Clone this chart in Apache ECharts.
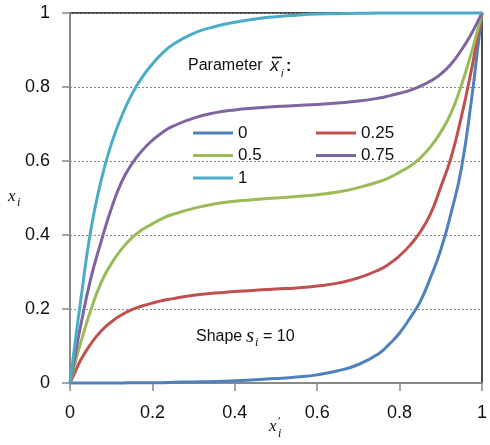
<!DOCTYPE html>
<html>
<head>
<meta charset="utf-8">
<script src="https://cdn.jsdelivr.net/npm/echarts@6/dist/echarts.min.js"></script>
<style>
  html, body { margin: 0; padding: 0; background: #fff; }
  #chart { width: 490px; height: 445px; }
</style>
</head>
<body>
<div id="chart"></div>
<script>
// Normalised position x'_i (horizontal) sampled along each curve
const xPrime = [0, 0.0125, 0.025, 0.05, 0.075, 0.1, 0.125, 0.15, 0.175, 0.2, 0.225, 0.25,
                0.3, 0.35, 0.4, 0.45, 0.5, 0.55, 0.6, 0.65, 0.7,
                0.75, 0.775, 0.8, 0.825, 0.85, 0.875, 0.9, 0.925, 0.95, 0.975, 0.9875, 1];

// Resulting x_i for each value of the parameter x̄_i (shape s_i = 10)
const param0 = [0, 0, 0, 0, 0, 0, 0, 0.001, 0.001, 0.001, 0.001, 0.002,
                0.003, 0.004, 0.006, 0.009, 0.012, 0.016, 0.022, 0.033, 0.05,
                0.08, 0.105, 0.135, 0.175, 0.22, 0.285, 0.36, 0.46, 0.58, 0.77, 0.885, 1];
const param025 = [0, 0.03, 0.06, 0.105, 0.14, 0.165, 0.184, 0.198, 0.208, 0.216, 0.223, 0.228,
                  0.237, 0.243, 0.247, 0.251, 0.254, 0.257, 0.262, 0.27, 0.284,
                  0.306, 0.322, 0.344, 0.372, 0.408, 0.457, 0.53, 0.61, 0.72, 0.85, 0.925, 1];
const param05 = [0, 0.055, 0.105, 0.195, 0.27, 0.322, 0.362, 0.392, 0.414, 0.43, 0.445, 0.456,
                 0.472, 0.484, 0.491, 0.496, 0.5, 0.504, 0.509, 0.516, 0.528,
                 0.544, 0.555, 0.57, 0.586, 0.608, 0.638, 0.678, 0.73, 0.805, 0.895, 0.945, 1];
const param075 = [0, 0.075, 0.15, 0.28, 0.38, 0.47, 0.543, 0.592, 0.628, 0.656, 0.678, 0.694,
                  0.716, 0.73, 0.738, 0.743, 0.747, 0.75, 0.753, 0.757, 0.762,
                  0.77, 0.776, 0.783, 0.791, 0.802, 0.816, 0.835, 0.862, 0.9, 0.945, 0.972, 1];
const param1 = [0, 0.11, 0.215, 0.41, 0.545, 0.645, 0.72, 0.78, 0.826, 0.862, 0.892, 0.915,
                0.945, 0.963, 0.975, 0.984, 0.99, 0.994, 0.997, 0.998, 0.999,
                1, 1, 1, 1, 1, 1, 1, 1, 1, 1, 1, 1];

const seriesNames = ['0', '0.25', '0.5', '0.75', '1'];
const seriesValues = [param0, param025, param05, param075, param1];
const seriesColors = ['#4F81BD', '#C0504D', '#9BBB59', '#8064A2', '#4BACC6'];

const axisTicks = [0, 0.2, 0.4, 0.6, 0.8, 1];

const sansFont = '"Liberation Sans", Arial, sans-serif';
const serifFont = '"Liberation Serif", "Times New Roman", serif';

const chart = echarts.init(document.getElementById('chart'), null, { renderer: 'canvas' });

const series = seriesNames.map((name, k) => ({
  name: name,
  type: 'line',
  data: xPrime.map((x, j) => [x, seriesValues[k][j]]),
  smooth: 0.5,
  showSymbol: false,
  clip: false,
  lineStyle: { width: 3, color: seriesColors[k] },
  itemStyle: { color: seriesColors[k] },
  z: 3
}));

const legendCommon = {
  orient: 'vertical',
  icon: 'rect',
  itemWidth: 40,
  itemHeight: 3,
  itemGap: 4.5,
  padding: 0,
  selectedMode: false,
  textStyle: { fontFamily: sansFont, fontSize: 17, color: '#111', lineHeight: 18 }
};

chart.setOption({
  animation: false,
  backgroundColor: '#fff',
  grid: {
    left: 70, right: 4, top: 13, bottom: 62,
    show: true,
    borderColor: '#111',
    borderWidth: 1.5,
    backgroundColor: 'transparent'
  },
  legend: [
    Object.assign({}, legendCommon, { left: 193, top: 124, data: ['0', '0.5', '1'] }),
    Object.assign({}, legendCommon, { left: 316, top: 124, data: ['0.25', '0.75'] })
  ],
  xAxis: {
    type: 'value',
    min: axisTicks[0],
    max: axisTicks[axisTicks.length - 1],
    interval: 0.2,
    axisLine: { show: true, lineStyle: { color: '#888', width: 2 } },
    axisTick: { show: true, inside: false, length: 8, lineStyle: { color: '#888', width: 1.5 } },
    axisLabel: { fontFamily: sansFont, fontSize: 18, color: '#111', margin: 21 },
    splitLine: { show: false }
  },
  yAxis: {
    type: 'value',
    min: axisTicks[0],
    max: axisTicks[axisTicks.length - 1],
    interval: 0.2,
    axisLine: { show: true, lineStyle: { color: '#888', width: 2 } },
    axisTick: { show: true, inside: false, length: 8, lineStyle: { color: '#888', width: 1.5 } },
    axisLabel: { fontFamily: sansFont, fontSize: 18, color: '#111', margin: 20 },
    splitLine: { show: true, lineStyle: { color: '#888', width: 1, type: [2, 2] } }
  },
  graphic: [
    // vertical axis title: x_i
    { type: 'text', left: 8, top: 188, style: { text: 'x', font: 'italic 17px ' + serifFont, fill: '#111' } },
    { type: 'text', left: 17, top: 197, style: { text: 'i', font: 'italic 12px ' + serifFont, fill: '#111' } },
    // horizontal axis title: x'_i
    { type: 'text', left: 269, top: 418, style: { text: 'x', font: 'italic 17px ' + serifFont, fill: '#111' } },
    { type: 'text', left: 278, top: 416, style: { text: '\u2032', font: '12px ' + serifFont, fill: '#111' } },
    { type: 'text', left: 278, top: 428, style: { text: 'i', font: 'italic 12px ' + serifFont, fill: '#111' } },
    // parameter caption
    { type: 'text', left: 188, top: 58, style: { text: 'Parameter', font: '16px ' + sansFont, fill: '#111' } },
    { type: 'text', left: 270, top: 57, style: { text: 'x', font: 'italic 18px ' + sansFont, fill: '#111' } },
    { type: 'line', shape: { x1: 272, y1: 57.5, x2: 282, y2: 57.5 }, style: { stroke: '#111', lineWidth: 1.6 } },
    { type: 'text', left: 281, top: 68, style: { text: 'i', font: 'italic 11px ' + sansFont, fill: '#111' } },
    { type: 'text', left: 286, top: 59, style: { text: ':', font: 'bold 16px ' + sansFont, fill: '#111' } },
    // shape caption
    { type: 'text', left: 196, top: 329, style: { text: 'Shape', font: '16px ' + sansFont, fill: '#111' } },
    { type: 'text', left: 246, top: 326, style: { text: 's', font: 'italic 21px ' + serifFont, fill: '#111' } },
    { type: 'text', left: 255, top: 337, style: { text: 'i', font: 'italic 12px ' + serifFont, fill: '#111' } },
    { type: 'text', left: 263, top: 329, style: { text: '= 10', font: '16px ' + sansFont, fill: '#111' } }
  ],
  series: series
});
</script>
</body>
</html>
